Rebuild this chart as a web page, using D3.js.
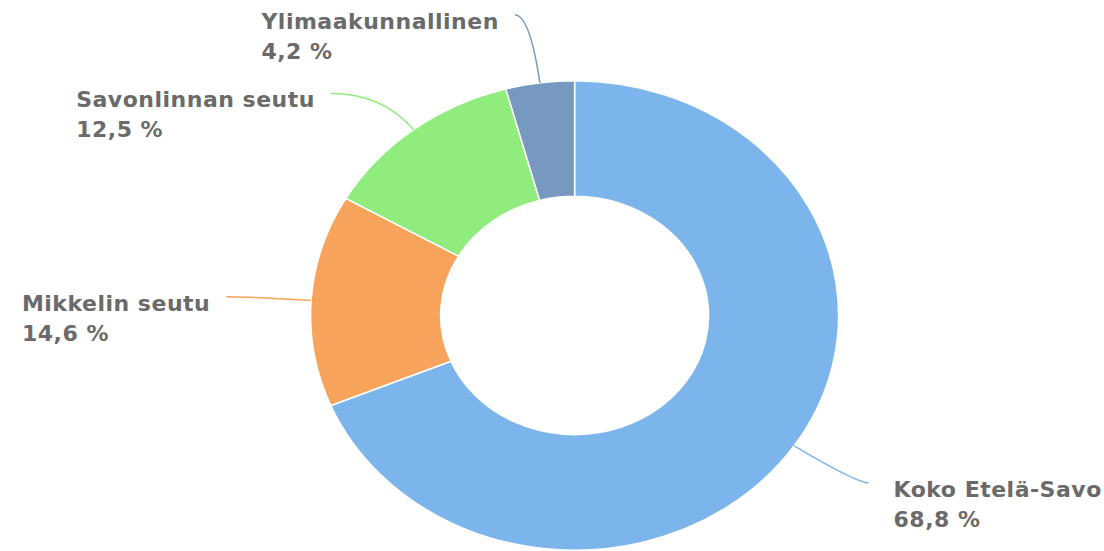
<!DOCTYPE html>
<html>
<head>
<meta charset="utf-8">
<script src="https://cdn.jsdelivr.net/npm/d3@7"></script>
<style>
  body { margin: 0; background: #fff; }
  .label { font-family: "DejaVu Sans", Verdana, sans-serif; font-weight: bold; font-size: 22px; fill: #6a6a6a; letter-spacing: 0.5px; }
</style>
</head>
<body>
<div id="chart"></div>
<script>
// Data
var categories = ["Koko Etelä-Savo", "Mikkelin seutu", "Savonlinnan seutu", "Ylimaakunnallinen"];
var values = [68.8, 14.6, 12.5, 4.2];
var colors = ["#7cb5ec", "#f7a35c", "#90ed7d", "#7798bf"];

(function() {
    var width = 1104, height = 551;

    // Pie geometry (the original is squashed vertically)
    var cx = 574.6, cy = 315.5,
        outer = 264, inner = 134,
        sy = 0.889,
        labelRadius = 349,
        labelTop = 15;

    // Small angle nudges (degrees) so the labels sit like the original
    var nudge = [-1.1, -0.2, -6.7, -2.3];

    var svg = d3.select("#chart")
        .append("svg")
        .attr("width", width)
        .attr("height", height);

    var data = categories.map(function(c, i) {
        return { name: c, value: values[i], color: colors[i] };
    });

    var pie = d3.pie()
        .sort(null)
        .value(function(d) { return d.value; });

    var arcs = pie(data);

    var arc = d3.arc()
        .innerRadius(inner)
        .outerRadius(outer);

    var g = svg.append("g")
        .attr("transform", "translate(" + cx + "," + cy + ") scale(1," + sy + ")");

    g.selectAll(".slice")
        .data(arcs)
        .enter()
        .append("path")
        .attr("class", "slice")
        .attr("d", arc)
        .attr("fill", function(d) { return d.data.color; })
        .attr("stroke", "#fff")
        .attr("stroke-width", 1.5)
        .attr("vector-effect", "non-scaling-stroke");

    // Point on the squashed circle at angle a (clockwise from top)
    function polar(a, r) {
        return [cx + r * Math.sin(a), cy - r * Math.cos(a) * sy];
    }

    arcs.forEach(function(d, i) {
        var mid = (d.startAngle + d.endAngle) / 2;
        var start = polar(mid, outer);
        var end = polar(mid + nudge[i] * Math.PI / 180, labelRadius);
        end[1] = Math.max(end[1], labelTop); // keep labels inside the plot
        var right = Math.sin(mid) > 0;

        // Control point: radial ray from the slice meets the label's level
        var dx = Math.sin(mid), dy = -Math.cos(mid) * sy;
        var t = (end[1] - start[1]) / dy;
        var ctrl = [start[0] + dx * t, end[1]];

        svg.append("path")
            .attr("d", "M" + start[0] + "," + start[1] + " Q" + ctrl[0] + "," + ctrl[1] + " " + end[0] + "," + end[1])
            .attr("fill", "none")
            .attr("stroke", d.data.color)
            .attr("stroke-width", 1.5);

        var text = svg.append("text")
            .attr("class", "label")
            .attr("y", end[1] + 14);

        var l1 = text.append("tspan").text(d.data.name);
        var l2 = text.append("tspan")
            .attr("dy", 30)
            .text(d3.format(".1f")(d.data.value).replace(".", ",") + " %");

        var x;
        if (right) {
            x = end[0] + 25;
        } else {
            x = end[0] - 16 - l1.node().getComputedTextLength();
        }
        l1.attr("x", x);
        l2.attr("x", x);
    });
}());
</script>
</body>
</html>
